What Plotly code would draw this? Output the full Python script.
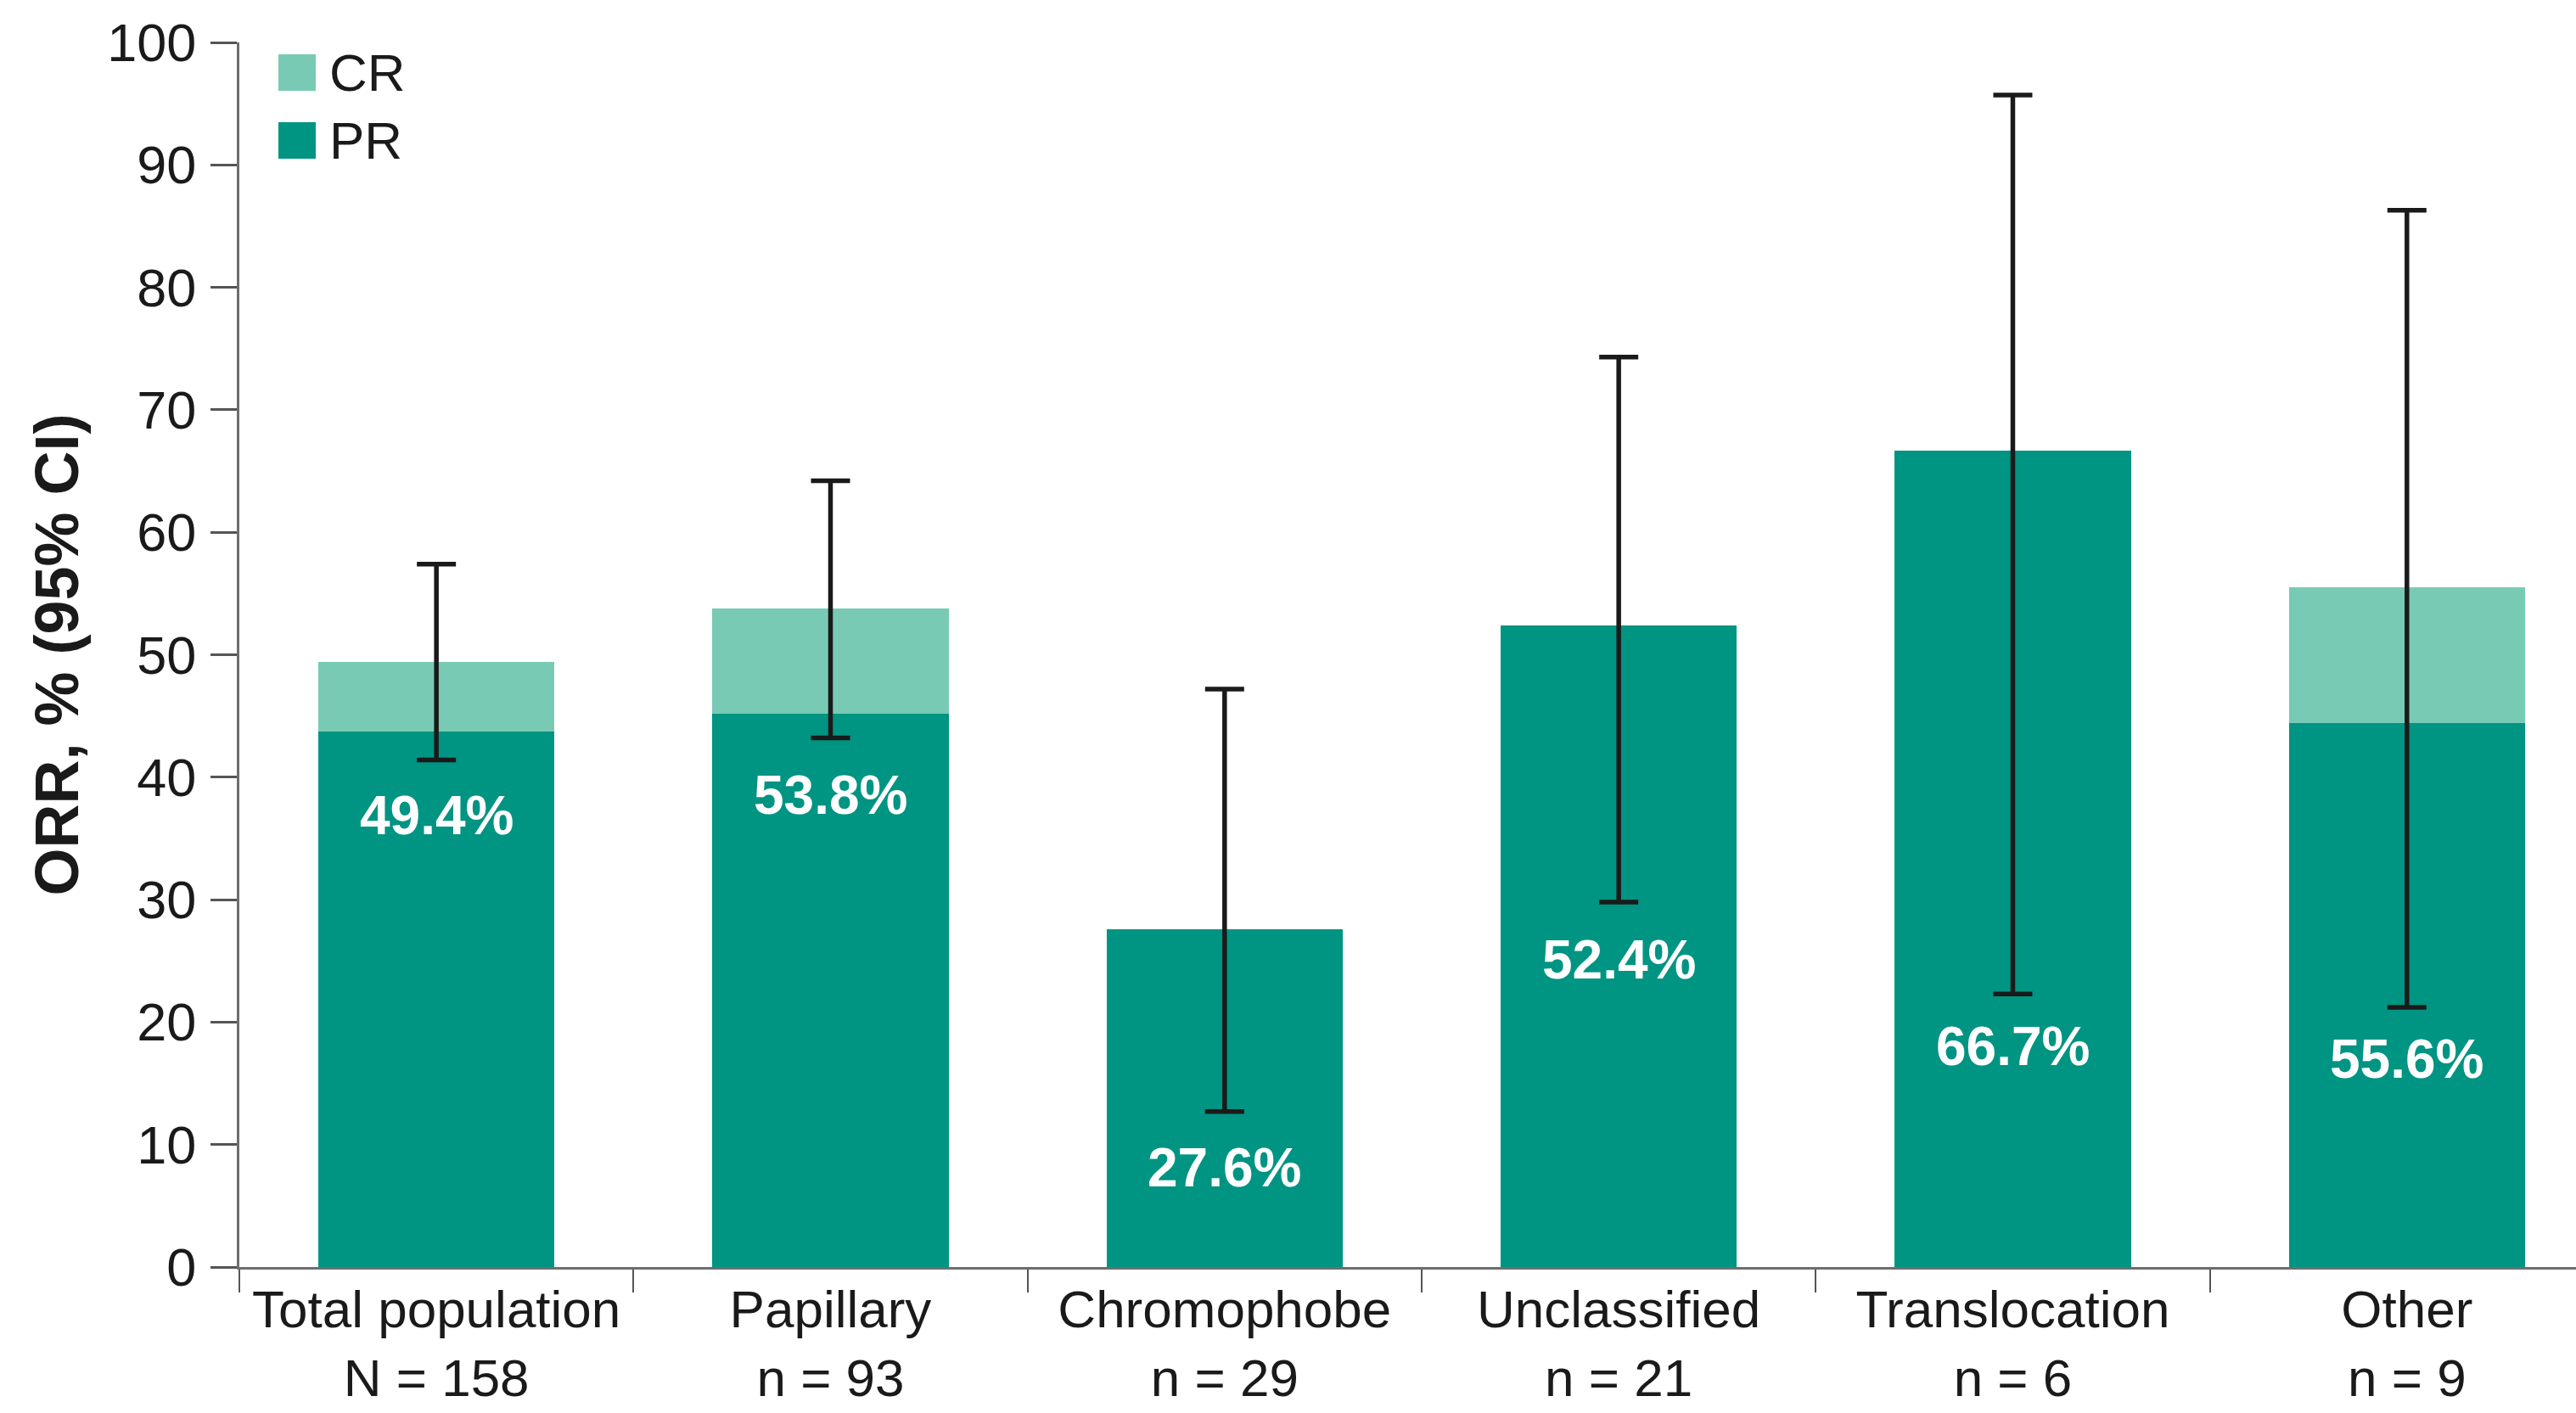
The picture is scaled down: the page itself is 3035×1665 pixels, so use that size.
import plotly.graph_objects as go

# ---- data ----
categories = ["Total population<br>N = 158", "Papillary<br>n = 93", "Chromophobe<br>n = 29",
              "Unclassified<br>n = 21", "Translocation<br>n = 6", "Other<br>n = 9"]
pr_values = [43.7, 45.2, 27.6, 52.4, 66.7, 44.4]
cr_values = [5.7, 8.6, 0.0, 0.0, 0.0, 11.1]
orr_values = [49.4, 53.8, 27.6, 52.4, 66.7, 55.6]
ci_low = [41.4, 43.2, 12.7, 29.8, 22.3, 21.2]
ci_high = [57.4, 64.2, 47.2, 74.3, 95.7, 86.3]
orr_labels = ["49.4%", "53.8%", "27.6%", "52.4%", "66.7%", "55.6%"]
y_ticks = [0, 10, 20, 30, 40, 50, 60, 70, 80, 90, 100]

# ---- layout helpers (positions of labels inside bars) ----
label_y = [36.9, 38.5, 8.1, 25.1, 18.0, 17.0]

PR_COLOR = "#009482"
CR_COLOR = "#79CAB4"
FONT = "Liberation Sans, Arial, sans-serif"

W, H = 3035, 1665
ML, MR, MT, MB = 282, 0, 50, 172
PW = W - ML - MR
PH = H - MT - MB

def px_x(px):
    return (px - ML) / PW

def px_y(py):
    return (H - MB - py) / PH

fig = go.Figure()
fig.add_trace(go.Bar(x=categories, y=pr_values, name="PR", marker=dict(color=PR_COLOR, line=dict(width=0)),
                     width=0.6, showlegend=False, hoverinfo="skip"))
fig.add_trace(go.Bar(x=categories, y=cr_values, name="CR", marker=dict(color=CR_COLOR, line=dict(width=0)),
                     width=0.6, showlegend=False, hoverinfo="skip"))

err_plus = [h - o for h, o in zip(ci_high, orr_values)]
err_minus = [o - l for o, l in zip(orr_values, ci_low)]
fig.add_trace(go.Scatter(x=categories, y=orr_values, mode="markers",
                         marker=dict(size=1, opacity=0),
                         error_y=dict(type="data", symmetric=False, array=err_plus, arrayminus=err_minus,
                                      color="#1a1a1a", thickness=5.5, width=23),
                         showlegend=False, hoverinfo="skip"))

annotations = []
for c, ly, t in zip(categories, label_y, orr_labels):
    annotations.append(dict(x=c, y=ly, xref="x", yref="y", text="<b>" + t + "</b>", showarrow=False,
                            font=dict(family=FONT, size=64, color="white"), xanchor="center", yanchor="middle"))

# y axis title
annotations.append(dict(x=px_x(66), y=0.5, xref="paper", yref="paper", text="<b>ORR, % (95% CI)</b>",
                        textangle=-90, showarrow=False, xanchor="center", yanchor="middle",
                        font=dict(family=FONT, size=72, color="#1a1a1a")))

# manual legend
shapes = []
legend_items = [("CR", CR_COLOR, 64, 107), ("PR", PR_COLOR, 144, 187)]
for name, col, top, bot in legend_items:
    shapes.append(dict(type="rect", xref="paper", yref="paper", x0=px_x(328), x1=px_x(372),
                       y0=px_y(bot), y1=px_y(top), fillcolor=col, line=dict(width=0)))
    annotations.append(dict(x=px_x(386), y=px_y((top + bot) / 2), xref="paper", yref="paper", text=name,
                            showarrow=False, xanchor="left", yanchor="middle",
                            font=dict(family=FONT, size=62, color="#1a1a1a")))

fig.update_layout(
    width=W, height=H,
    margin=dict(l=ML, r=MR, t=MT, b=MB, pad=0, autoexpand=False),
    barmode="stack",
    plot_bgcolor="white", paper_bgcolor="white",
    showlegend=False,
    annotations=annotations,
    shapes=shapes,
    font=dict(family=FONT, color="#1a1a1a"),
)
fig.update_xaxes(
    type="category", range=[-0.5, 5.429], showline=True, linecolor="#6e6e6e", linewidth=3,
    ticks="outside", tickson="boundaries", ticklen=27, tickwidth=2, tickcolor="#555555",
    tickangle=0, automargin=False, ticklabelstandoff=-6,
    tickfont=dict(family=FONT, size=62, color="#1a1a1a"), showgrid=False, zeroline=False,
)
fig.update_yaxes(
    range=[0, 100], tickvals=y_ticks, showline=True, linecolor="#6e6e6e", linewidth=3,
    ticks="outside", ticklen=31, tickwidth=3, tickcolor="#555555", automargin=False,
    tickfont=dict(family=FONT, size=63, color="#1a1a1a"), showgrid=False, zeroline=False,
    ticklabelstandoff=4,
)

fig.write_html("out.html")
